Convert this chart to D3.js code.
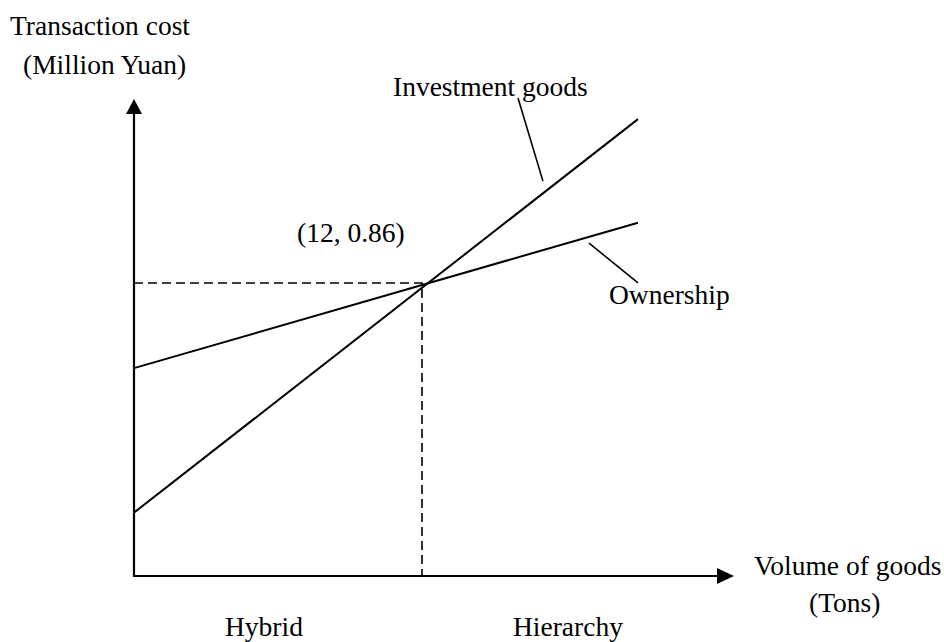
<!DOCTYPE html>
<html lang="en">
<head>
<meta charset="utf-8">
<title>Transaction cost vs volume of goods</title>
<script src="https://cdn.jsdelivr.net/npm/d3@7"></script>
<style>
  body { margin: 0; background: #fff; }
  text { font-family: "Liberation Serif", "Times New Roman", serif; font-size: 27.5px; fill: #000; }
</style>
</head>
<body>
<script>
// data (x: tons, y: million yuan)
var seriesNames = ["Investment goods", "Ownership"];
var investmentX = [0, 21];
var investmentY = [0.186, 1.341];
var ownershipX = [0, 21];
var ownershipY = [0.61, 1.037];
var crossPoint = [12, 0.86];
var crossLabel = "(12, 0.86)";
var regionLabels = ["Hybrid", "Hierarchy"];

var w = 944, h = 642;

var xScale = d3.scaleLinear().domain([0, 25]).range([134, 734]);
var yScale = d3.scaleLinear().domain([0, 1.4]).range([576, 99]);

var svg = d3.select("body").append("svg")
  .attr("width", w)
  .attr("height", h);

var line = d3.line()
  .x(function(d) { return xScale(d[0]); })
  .y(function(d) { return yScale(d[1]); });

// dashed guides to the crossing point
svg.append("path")
  .attr("d", line([[0, crossPoint[1]], crossPoint, [crossPoint[0], 0]]))
  .attr("fill", "none")
  .attr("stroke", "#000")
  .attr("stroke-width", 1.6)
  .attr("stroke-dasharray", "9,5");

// the two cost lines
var series = [d3.zip(investmentX, investmentY), d3.zip(ownershipX, ownershipY)];
svg.selectAll("path.series")
  .data(series)
  .enter()
  .append("path")
  .attr("class", "series")
  .attr("d", line)
  .attr("fill", "none")
  .attr("stroke", "#000")
  .attr("stroke-width", 2);

// axes with arrow heads
var x0 = xScale(0), y0 = yScale(0);
var xEnd = xScale.range()[1], yEnd = yScale.range()[1];
svg.append("path")
  .attr("d", "M" + x0 + "," + (yEnd + 14) + "V" + y0 + "H" + (xEnd - 16))
  .attr("fill", "none")
  .attr("stroke", "#000")
  .attr("stroke-width", 2.2);
svg.append("path")
  .attr("d", "M" + x0 + "," + yEnd + "L" + (x0 - 8) + "," + (yEnd + 15) + "L" + (x0 + 8) + "," + (yEnd + 15) + "Z")
  .attr("fill", "#000");
svg.append("path")
  .attr("d", "M" + xEnd + "," + y0 + "L" + (xEnd - 17) + "," + (y0 - 8) + "L" + (xEnd - 17) + "," + (y0 + 8) + "Z")
  .attr("fill", "#000");

// leader lines for series labels
var leaders = [[[16.0, 1.403], [17.04, 1.159]], [[18.96, 0.977], [21.0, 0.86]]];
svg.selectAll("path.leader")
  .data(leaders)
  .enter()
  .append("path")
  .attr("class", "leader")
  .attr("d", line)
  .attr("stroke", "#000")
  .attr("stroke-width", 1.6);

// labels
svg.append("text").attr("x", 10).attr("y", 35).text("Transaction cost");
svg.append("text").attr("x", 23).attr("y", 74).text("(Million Yuan)");
svg.append("text").attr("x", 393).attr("y", 96).text(seriesNames[0]);
svg.append("text").attr("x", 609).attr("y", 304).text(seriesNames[1]);
svg.append("text").attr("x", 297).attr("y", 242).text(crossLabel);
svg.append("text").attr("x", 754).attr("y", 575).text("Volume of goods");
svg.append("text").attr("x", 809).attr("y", 612).text("(Tons)");
svg.append("text").attr("x", 225).attr("y", 636).text(regionLabels[0]);
svg.append("text").attr("x", 513).attr("y", 636).text(regionLabels[1]);
</script>
</body>
</html>
